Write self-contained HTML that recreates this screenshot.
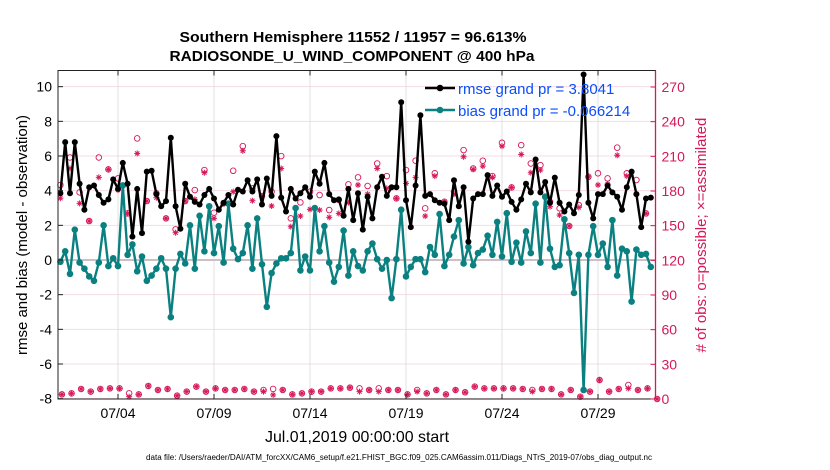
<!DOCTYPE html>
<html><head><meta charset="utf-8"><style>
html,body{margin:0;padding:0;background:#fff;}
svg{display:block;font-family:"Liberation Sans",Arial,sans-serif;}
</style></head><body>
<svg id="chart" width="830" height="470" viewBox="0 0 830 470" xmlns="http://www.w3.org/2000/svg">
<text x="353" y="42" text-anchor="middle" font-size="15" font-weight="bold" textLength="347" lengthAdjust="spacingAndGlyphs">Southern Hemisphere 11552 / 11957 = 96.613%</text>
<text x="352" y="61" text-anchor="middle" font-size="15" font-weight="bold" textLength="365" lengthAdjust="spacingAndGlyphs">RADIOSONDE_U_WIND_COMPONENT @ 400 hPa</text>
<g id="grid"></g>
<g id="obs"></g>
<g id="series"></g>
<g id="axes"></g>
<g>
  <line x1="425" y1="88" x2="455" y2="88" stroke="#000" stroke-width="2.5"/>
  <circle cx="440" cy="88" r="3.3" fill="#000"/>
  <text x="458" y="94" font-size="15" fill="#0b4dfa">rmse grand pr = 3.8041</text>
  <line x1="425" y1="110" x2="455" y2="110" stroke="#0a8080" stroke-width="2.5"/>
  <circle cx="440" cy="110" r="3.3" fill="#0a8080"/>
  <text x="458" y="116" font-size="15" fill="#0b4dfa">bias grand pr = -0.066214</text>
</g>
<text transform="translate(27,235) rotate(-90)" text-anchor="middle" font-size="15">rmse and bias (model - observation)</text>
<text transform="translate(706,235) rotate(-90)" text-anchor="middle" font-size="15" fill="#d6175a"># of obs: o=possible; ×=assimilated</text>
<text x="357" y="442" text-anchor="middle" font-size="16" textLength="184" lengthAdjust="spacingAndGlyphs">Jul.01,2019 00:00:00 start</text>
<text x="146" y="460" font-size="8" textLength="506" lengthAdjust="spacingAndGlyphs">data file: /Users/raeder/DAI/ATM_forcXX/CAM6_setup/f.e21.FHIST_BGC.f09_025.CAM6assim.011/Diags_NTrS_2019-07/obs_diag_output.nc</text>
</svg>
<script>
const rmse=[3.85,6.8,3.85,6.8,4.4,2.9,4.2,4.3,3.75,3.3,3.5,4.65,4.1,5.6,4.4,1.35,4.1,1.55,5.1,5.15,3.8,3.1,3.4,7.05,3.1,1.8,4.4,3.65,3.35,3.2,3.75,4.1,
3.55,2.9,3.3,3.75,3.2,4.05,3.95,4.6,3.95,4.65,3.2,4.7,3.7,7.15,3.6,2.8,4.1,3.55,3.85,4.2,3.65,5.1,4.4,5.6,3.8,3.45,3.5,2.55,4.1,2.3,3.85,
1.75,3.65,2.4,4.2,4.8,3.7,4.2,4.2,9.1,3.45,1.9,4.3,8.35,3.7,3.8,3.45,3.3,3.25,2.3,4.6,3.1,4.2,1.05,3.55,3.8,3.8,4.9,3.7,4.3,3.65,3.95,
3.35,2.9,3.5,4.4,3.9,5.8,3.9,4.5,3.3,4.75,3.3,2.8,3.2,2.7,3.75,10.7,3.3,2.4,3.8,3.8,4.3,3.9,3.65,2.9,4.2,5.1,3.8,1.9,3.55,3.6];
const bias=[-0.1,0.5,-0.8,1.75,-0.15,-0.5,-0.95,-1.2,-0.15,2.0,-0.35,0.1,-0.35,4.3,0.3,0.9,-0.65,0.2,-1.2,-0.9,-0.5,0.1,-0.5,-3.3,-0.5,0.35,-0.2,2.0,-0.5,2.55,0.5,3.1,
0.4,1.95,-0.15,3.25,0.65,0.05,0.4,2.0,-0.5,2.4,-0.25,-2.7,-0.75,-0.2,0.1,0.1,0.4,3.0,-0.6,0.2,-0.6,3.0,0.5,1.95,-0.15,-1.25,-0.4,1.7,-0.9,0.5,-0.35,
-0.6,0.5,0.95,0.05,-0.5,0,-2.2,0.05,2.9,-0.95,-0.4,0.05,0.05,-0.7,0.75,0.3,2.65,-0.35,0.3,1.35,2.3,-0.2,0.75,-0.3,0.4,0.6,1.4,0.3,2.2,0.2,2.7,
-0.1,1.0,-0.15,1.65,0.4,3.25,-0.15,3.65,0.65,-0.4,-0.3,2.35,0.4,-1.9,0.3,-7.5,0.3,1.95,0.3,0.95,-0.4,2.3,-0.9,0.65,0.5,-2.4,0.6,0.3,0.35,-0.4];
const upPoss=[185.2,209,178.8,154,209,198.7,190.9,160.6,225.5,171.3,178,156.3,146.8,171.3,180.8,198.1,
161.2,169.3,197.5,218.8,182.3,175.7,179.4,210.2,156.3,170.1,179.4,176.5,163.5,172.2,185.7,191.8,
184.3,203.8,192.9,173.6,198.1,206.2,165,195.3,170.7,179.4,215.4,199.5,206.2,192.9,221.7,
183.1,219.7,203.8,202.4,170.7,165,149.7,167.8,192.3,195.3,190.9,217.5,195.3,189.5,160.6];
const upAssim=[173.8,199.5,169.3,154,191.8,198.7,180.8,160.6,212.5,171.3,174.2,156.3,143.9,171.3,172.8,195.8,
156.3,169.3,179.4,214.8,171.6,175.7,167,199.5,149.1,158.3,164.1,163.5,157.2,160.6,169.9,185.2,
177.3,199.5,182.3,173.6,186.6,191.8,158.3,192.9,170.7,177.3,209.6,198.7,201.5,191.8,218.8,
183.1,211.6,195.8,198.1,166.4,159.2,149.7,165.8,192.3,185.2,186,210.9,192.9,177.3,160.6];
const lowPoss=[4.0,4.9,8.7,6.4,8.7,9.2,9.2,4.9,4.0,11.3,7.8,8.7,2.9,6.4,10.7,6.4,9.2,7.8,7.8,8.7,6.4,7.8,8.7,7.8,4.0,4.9,6.4,6.4,9.2,9.2,9.8,
9.2,7.8,9.2,7.8,7.8,4.0,7.8,4.9,7.8,4.0,7.8,5.8,10.7,9.2,9.2,9.2,9.2,8.7,7.8,8.7,8.7,4.0,7.8,2.0,6.4,16.4,6.4,8.7,12.1,7.8,9.2,0];
const lowAssim=[4.0,4.9,8.7,6.4,8.7,9.2,9.2,2.0,4.0,11.3,7.8,8.7,2.9,6.4,10.7,6.4,9.2,7.8,7.8,8.7,6.4,6.4,3.5,7.8,4.0,4.9,6.4,6.4,9.2,9.2,9.8,
6.4,7.8,6.4,7.8,7.8,4.0,6.4,4.9,7.8,4.0,7.8,5.8,10.7,9.2,9.2,9.2,9.2,8.7,6.4,8.7,8.7,4.0,7.8,2.0,6.4,16.4,6.4,8.7,9.2,7.8,9.2,0];
const leftTicks=[-8,-6,-4,-2,0,2,4,6,8,10];
const rightTicks=[0,30,60,90,120,150,180,210,240,270];
const dateTicks=[3,8,13,18,23,28];
const dateLabels=["07/04","07/09","07/14","07/19","07/24","07/29"];

const NS="http://www.w3.org/2000/svg";
const X0=58,X1=655.5,Y0=70.5,Y1=399;
const xDay=d=>60.4+d*19.2;
const yL=v=>260-v*17.333;
const yR=c=>399-c*1.1556;
const RED="#d6175a",TEAL="#0a8080";
function mk(tag,attrs,parent){const e=document.createElementNS(NS,tag);for(const k in attrs)e.setAttribute(k,attrs[k]);parent.appendChild(e);return e;}
const grid=document.getElementById('grid'),axes=document.getElementById('axes'),obs=document.getElementById('obs'),ser=document.getElementById('series');

leftTicks.forEach(v=>{const l=mk('line',{x1:X0,x2:X1,y1:yL(v),y2:yL(v),stroke:'#f5dde6','stroke-width':1},grid);

});
dateTicks.forEach(d=>{const l=mk('line',{x1:xDay(d),x2:xDay(d),y1:Y0,y2:Y1,stroke:'#e0e0e0','stroke-width':1},grid);

});
const z=mk('line',{x1:X0,x2:X1,y1:yL(0),y2:yL(0),stroke:'#cdbfc3','stroke-width':2},grid);



function circ(x,y){const c=mk('circle',{cx:x,cy:y,r:2.8,fill:'none',stroke:RED,'stroke-width':0.9},obs);

}
function star(x,y){const g=mk('g',{stroke:RED,'stroke-width':1},obs);


const r=3;mk('line',{x1:x-r,x2:x+r,y1:y,y2:y},g);mk('line',{x1:x,x2:x,y1:y-r,y2:y+r},g);
mk('line',{x1:x-2.1,x2:x+2.1,y1:y-2.1,y2:y+2.1},g);mk('line',{x1:x-2.1,x2:x+2.1,y1:y+2.1,y2:y-2.1},g);}
upPoss.forEach((c,k)=>{circ(xDay(k/2),yR(c));star(xDay(k/2),yR(upAssim[k]));});
lowPoss.forEach((c,k)=>{circ(xDay(k/2+0.08),yR(c));star(xDay(k/2+0.08),yR(lowAssim[k]));});

function series(vals,color,name,r){
  const pts=vals.map((v,i)=>xDay(i/4).toFixed(1)+','+yL(v).toFixed(1)).join(' ');
  const p=mk('polyline',{points:pts,fill:'none',stroke:color,'stroke-width':2.4,'stroke-linejoin':'round'},ser);
  
  
  vals.forEach((v,i)=>{const c=mk('circle',{cx:xDay(i/4),cy:yL(v),r:r,fill:color},ser);
  
  });
}
series(bias,TEAL,'bias',3.3);
series(rmse,'#000','rmse',3.0);

const fr=mk('rect',{x:X0,y:Y0,width:X1-X0,height:Y1-Y0,fill:'none',stroke:'#222','stroke-width':1},axes);


const ra=mk('line',{x1:X1,x2:X1,y1:Y0,y2:Y1,stroke:RED,'stroke-width':1.3},axes);


leftTicks.forEach(v=>{mk('line',{x1:X0,x2:X0+5,y1:yL(v),y2:yL(v),stroke:'#222'},axes);
const t=mk('text',{x:X0-6,y:yL(v)+5,'text-anchor':'end','font-size':14},axes);t.textContent=v;

});
rightTicks.forEach(c=>{mk('line',{x1:X1-5,x2:X1,y1:yR(c),y2:yR(c),stroke:RED},axes);
const t=mk('text',{x:X1+6,y:yR(c)+5,'font-size':14,fill:RED},axes);t.textContent=c;

});
dateTicks.forEach((d,i)=>{mk('line',{x1:xDay(d),x2:xDay(d),y1:Y1,y2:Y1-5,stroke:'#222'},axes);
mk('line',{x1:xDay(d),x2:xDay(d),y1:Y0,y2:Y0+5,stroke:'#222'},axes);
const t=mk('text',{x:xDay(d),y:418,'text-anchor':'middle','font-size':14},axes);t.textContent=dateLabels[i];

});
</script>
</body></html>
